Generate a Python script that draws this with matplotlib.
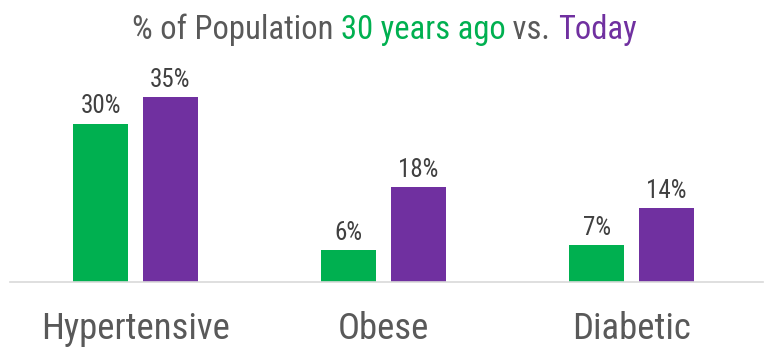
import matplotlib
matplotlib.use("Agg")
import matplotlib.pyplot as plt
import numpy as np

categories = ["Hypertensive", "Obese", "Diabetic"]
past_pct = [30, 6, 7]
today_pct = [35, 18, 14]

GREEN = "#00B050"
PURPLE = "#7030A0"
GRAY = "#595959"

plt.rcParams["font.family"] = ["Liberation Sans Narrow", "Roboto Condensed", "Liberation Sans", "DejaVu Sans"]

fig = plt.figure(figsize=(7.68, 3.55), dpi=100)
ax = fig.add_axes([10 / 768, 73 / 355, 753 / 768, 222 / 355])

x = np.arange(len(categories))
w = 0.222
off = 0.141
b1 = ax.bar(x - off, past_pct, w, color=GREEN)
b2 = ax.bar(x + off, today_pct, w, color=PURPLE)

for bars, vals in ((b1, past_pct), (b2, today_pct)):
    for bar, v in zip(bars, vals):
        ax.annotate(f"{v}%", (bar.get_x() + bar.get_width() / 2, v),
                    xytext=(0, 4), textcoords="offset points",
                    ha="center", va="bottom", fontsize=18, color="#404040")

ax.set_xlim(-0.506, 2.53)
ax.set_ylim(0, 42.1)
ax.set_xticks(x)
ax.set_xticklabels(categories, fontsize=26.5, color=GRAY)
ax.tick_params(axis="x", length=0, pad=21)
ax.set_yticks([])
for s in ("top", "left", "right"):
    ax.spines[s].set_visible(False)
ax.spines["bottom"].set_color("#D9D9D9")
ax.spines["bottom"].set_linewidth(1.2)

# title in three colours, laid out piece by piece
parts = [("% of Population ", GRAY), ("30 years ago", GREEN), (" vs. ", GRAY), ("Today", PURPLE)]
fig.canvas.draw()
r = fig.canvas.get_renderer()
texts = [fig.text(0, 0.89, s, color=c, fontsize=23.5, va="baseline") for s, c in parts]
widths = [t.get_window_extent(r).width for t in texts]
xpos = (768 - sum(widths)) / 2
for t, wd in zip(texts, widths):
    t.set_x(xpos / 768)
    xpos += wd

fig.savefig("out.png", dpi=100)
